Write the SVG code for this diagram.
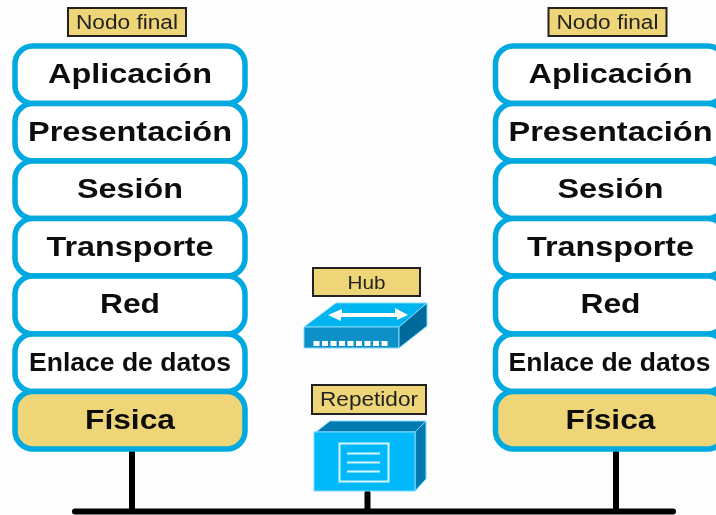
<svg xmlns="http://www.w3.org/2000/svg" width="716" height="515" viewBox="0 0 716 515">
<style>
.layer{fill:#fff;stroke:#00a9e0;stroke-width:5.500}
.phys{fill:#eed577}
.t{font-family:"Liberation Sans",Arial,sans-serif;font-weight:bold;font-size:28px;fill:#111;text-anchor:middle}
.e{font-size:26px}
.lbl{fill:#eed577;stroke:#222;stroke-width:2}
.lt{font-family:"Liberation Sans",Arial,sans-serif;font-size:20px;fill:#222;text-anchor:middle}
.wire{stroke:#000;stroke-width:6;stroke-linecap:round;fill:none}
</style>
<defs><filter id="b" x="-5%" y="-5%" width="110%" height="110%"><feGaussianBlur stdDeviation="0.6"/></filter></defs>
<rect width="716" height="515" fill="#fdfdfd"/>
<g filter="url(#b)">
<g id="connectors">
<path class="wire" d="M75 511.500H673"/>
<path class="wire" stroke-linecap="butt" d="M132 451V511M616 451V511M367.500 493V511"/>
</g>
<g id="stack-left">
<rect class="lbl" x="68" y="8" width="118" height="28"/><text class="lt" x="127" y="29" textLength="102" lengthAdjust="spacingAndGlyphs">Nodo final</text>
<rect class="layer" x="15" y="46" width="230" height="57.500" rx="18"/><text class="t" x="130" y="83" textLength="164" lengthAdjust="spacingAndGlyphs">Aplicación</text>
<rect class="layer" x="15" y="103.500" width="230" height="57.500" rx="18"/><text class="t" x="130" y="141" textLength="204" lengthAdjust="spacingAndGlyphs">Presentación</text>
<rect class="layer" x="15" y="161" width="230" height="57.500" rx="18"/><text class="t" x="130" y="198" textLength="106" lengthAdjust="spacingAndGlyphs">Sesión</text>
<rect class="layer" x="15" y="218.500" width="230" height="57.500" rx="18"/><text class="t" x="130" y="256" textLength="167" lengthAdjust="spacingAndGlyphs">Transporte</text>
<rect class="layer" x="15" y="276" width="230" height="58" rx="18"/><text class="t" x="130" y="313" textLength="60" lengthAdjust="spacingAndGlyphs">Red</text>
<rect class="layer" x="15" y="334" width="230" height="57.500" rx="18"/><text class="t e" x="130" y="371" textLength="202" lengthAdjust="spacingAndGlyphs">Enlace de datos</text>
<rect class="layer phys" x="15" y="391.500" width="230" height="57.500" rx="18"/><text class="t" x="130" y="429" textLength="90" lengthAdjust="spacingAndGlyphs">Física</text>
</g>
<g id="stack-right" transform="translate(480.500 0)">
<rect class="lbl" x="68" y="8" width="118" height="28"/><text class="lt" x="127" y="29" textLength="102" lengthAdjust="spacingAndGlyphs">Nodo final</text>
<rect class="layer" x="15" y="46" width="230" height="57.500" rx="18"/><text class="t" x="130" y="83" textLength="164" lengthAdjust="spacingAndGlyphs">Aplicación</text>
<rect class="layer" x="15" y="103.500" width="230" height="57.500" rx="18"/><text class="t" x="130" y="141" textLength="204" lengthAdjust="spacingAndGlyphs">Presentación</text>
<rect class="layer" x="15" y="161" width="230" height="57.500" rx="18"/><text class="t" x="130" y="198" textLength="106" lengthAdjust="spacingAndGlyphs">Sesión</text>
<rect class="layer" x="15" y="218.500" width="230" height="57.500" rx="18"/><text class="t" x="130" y="256" textLength="167" lengthAdjust="spacingAndGlyphs">Transporte</text>
<rect class="layer" x="15" y="276" width="230" height="58" rx="18"/><text class="t" x="130" y="313" textLength="60" lengthAdjust="spacingAndGlyphs">Red</text>
<rect class="layer" x="15" y="334" width="230" height="57.500" rx="18"/><text class="t e" x="129" y="371" textLength="202" lengthAdjust="spacingAndGlyphs">Enlace de datos</text>
<rect class="layer phys" x="15" y="391.500" width="230" height="57.500" rx="18"/><text class="t" x="130" y="429" textLength="90" lengthAdjust="spacingAndGlyphs">Física</text>
</g>
<g id="hub">
<rect class="lbl" x="313" y="268" width="107" height="28"/><text class="lt" x="366.500" y="289" textLength="38" lengthAdjust="spacingAndGlyphs" style="font-size:19px">Hub</text>
<polygon points="304,327 336,303 427,303 399,327" fill="#00b4f0" stroke="#7fdcff"/>
<polygon points="304,327 399,327 399,348 304,348" fill="#0a8fc8" stroke="#7fdcff"/>
<polygon points="399,327 427,303 427,326 399,348" fill="#006a9c" stroke="#7fdcff"/>
<path d="M328 315L342 309V313H395V308L408 315L397 320V317H341V321Z" fill="#fff"/>
<path d="M313.500 343.500H390" stroke="#fff" stroke-width="5" stroke-dasharray="6 2.500"/>
</g>
<g id="repetidor">
<rect class="lbl" x="312" y="385" width="114" height="29"/><text class="lt" x="369" y="406" textLength="98" lengthAdjust="spacingAndGlyphs">Repetidor</text>
<polygon points="316,432 330,421 426,421 415,432" fill="#0079b0" stroke="#7fdcff"/>
<polygon points="415,432 426,421 426,479 415,491" fill="#0079b0" stroke="#7fdcff"/>
<rect x="314" y="432" width="101" height="59" fill="#00b8fa" stroke="#7fdcff"/>
<rect x="339.500" y="443.500" width="49" height="38" fill="none" stroke="#d5f6ff" stroke-width="2"/>
<path d="M347 453.500H380M347 462.500H380M347 471.500H380" stroke="#d5f6ff" stroke-width="2"/>
</g>
</g>
</svg>
